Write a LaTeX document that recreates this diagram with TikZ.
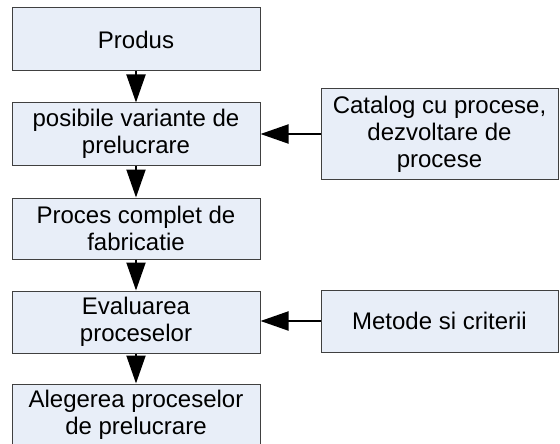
\documentclass[tikz,border=0pt]{standalone}
\usepackage{fontspec}
\setmainfont{Liberation Sans}
\usetikzlibrary{arrows.meta}
\definecolor{boxfill}{RGB}{232,238,248}
\definecolor{boxline}{RGB}{64,64,64}
\begin{document}
\begin{tikzpicture}[x=1pt,y=-1pt,
  flowbox/.style={draw=boxline, fill=boxfill, line width=1pt, inner sep=0pt,
    minimum width=248pt, minimum height=62pt, align=center,
    font=\fontsize{24}{27}\selectfont},
  sidebox/.style={flowbox, minimum width=237pt},
  flow/.style={line width=2pt, -{Triangle[length=28pt,width=19pt]}}]
\useasboundingbox (0,0) rectangle (560,444);
% main chain
\node[flowbox, minimum height=63pt] (prod) at (136,39.5) {Produs};
\node[flowbox] (var) at (136,134) {posibile variante de\\prelucrare};
\node[flowbox, minimum height=61pt] (fab) at (136,228.5) {Proces complet de\\fabricatie};
\node[flowbox] (eval) at (136,322) {Evaluarea\\proceselor};
\node[flowbox] (alg) at (136,415) {Alegerea proceselor\\de prelucrare};
% inputs on the right
\node[sidebox, minimum height=90pt] (cat) at (439.5,134) {Catalog cu procese,\\dezvoltare de\\procese};
\node[sidebox] (met) at (439.5,321) {Metode si criterii};
% connectors
\draw[flow] (prod) -- (var);
\draw[flow] (var) -- (fab);
\draw[flow] (fab) -- (eval);
\draw[flow] (eval) -- (alg);
\draw[flow] (cat.west) -- (var.east);
\draw[flow] (met.west) -- (met.west -| eval.east);
\end{tikzpicture}
\end{document}
